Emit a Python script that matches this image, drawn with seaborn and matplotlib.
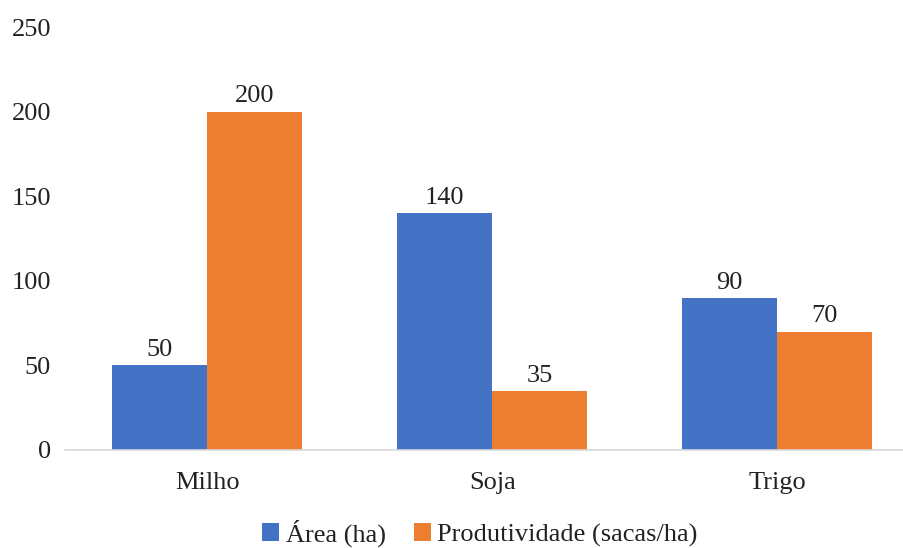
import matplotlib
matplotlib.use("Agg")
import matplotlib.pyplot as plt
import seaborn as sns
import pandas as pd

categorias = ["Milho", "Soja", "Trigo"]
area_ha = [50, 140, 90]
produtividade = [200, 35, 70]
series = ["Área (ha)", "Produtividade (sacas/ha)"]
cores = ["#4472C4", "#ED7D31"]
yticks = [0, 50, 100, 150, 200, 250]

sns.set_theme(style="white")
plt.rcParams["font.family"] = ["Liberation Serif", "DejaVu Serif"]

df = pd.DataFrame({
    "cat": categorias * 2,
    "val": area_ha + produtividade,
    "serie": [series[0]] * 3 + [series[1]] * 3,
})

FS = 19
fig = plt.figure(figsize=(9.04, 5.48), dpi=100)
ax = fig.add_axes([65 / 904, 1 - 450 / 548, 1 - 65 / 904, (450 - 27) / 548])
sns.barplot(data=df, x="cat", y="val", hue="serie", palette=cores,
            width=0.667, gap=0, saturation=1, linewidth=0, ax=ax, legend=True)
ax.set_ylim(0, 250)
ax.set_xlim(-0.5, 2.446)
ax.set_yticks(yticks)
ax.set_xlabel("")
ax.set_ylabel("")
for s in ["top", "right", "left"]:
    ax.spines[s].set_visible(False)
ax.spines["bottom"].set_color("#d9d9d9")
ax.spines["bottom"].set_linewidth(1.2)
ax.tick_params(axis="y", length=0, pad=10, labelsize=FS, colors="#222222")
ax.tick_params(axis="x", length=0, pad=16, labelsize=FS, colors="#222222")
for c in ax.containers:
    ax.bar_label(c, padding=3, fontsize=FS, color="#222222")
h, l = ax.get_legend_handles_labels()
ax.legend_.remove()
fig.legend(h, l, loc="center", bbox_to_anchor=(0.531, 1 - 533 / 548), ncol=2,
           frameon=False, fontsize=FS, handlelength=0.65, handleheight=0.65,
           handletextpad=0.25, columnspacing=1.05, labelcolor="#222222",
           borderpad=0)
fig.savefig("out.png", dpi=100)
